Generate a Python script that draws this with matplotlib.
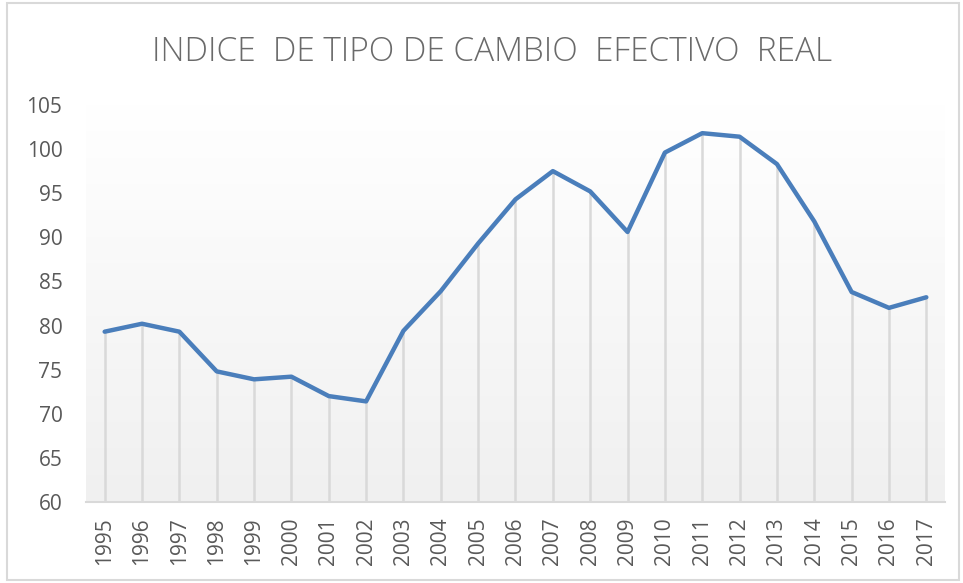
import matplotlib
matplotlib.use("Agg")
import matplotlib.pyplot as plt
import numpy as np
from matplotlib.patches import Rectangle
from matplotlib.colors import LinearSegmentedColormap

years = [str(y) for y in range(1995, 2018)]
values = [79.3, 80.2, 79.3, 74.8, 73.9, 74.2, 72.0, 71.4, 79.4, 83.9, 89.3, 94.3,
          97.5, 95.2, 90.6, 99.6, 101.8, 101.4, 98.3, 91.8, 83.8, 82.0, 83.2]
yticks = [60, 65, 70, 75, 80, 85, 90, 95, 100, 105]
title = "INDICE  DE TIPO DE CAMBIO  EFECTIVO  REAL"

plt.rcParams['font.family'] = ['Open Sans', 'DejaVu Sans']

fig = plt.figure(figsize=(9.63, 5.83), dpi=100)
fig.patch.set_facecolor('white')
fig.add_artist(Rectangle((0.007, 0.006), 0.989, 0.988, transform=fig.transFigure,
                         fill=False, edgecolor='#d9d9d9', linewidth=1.5))

ax = fig.add_axes([0.0893, 0.139, 0.892, 0.681])
x = np.arange(len(years))
ax.set_xlim(-0.5, len(years) - 0.5)
ax.set_ylim(60, 105)

# gradient background (light gray at bottom to white at top)
cmap = LinearSegmentedColormap.from_list('g', ['#f0f0f0', '#ffffff'])
ax.imshow(np.linspace(0.0, 1.0, 256).reshape(-1, 1),
          extent=(-0.5, len(years) - 0.5, 60, 105), aspect='auto',
          cmap=cmap, origin='lower', zorder=0)

ax.vlines(x, 60, values, colors='#d9d9d9', linewidth=1.8, zorder=1)
ax.plot(x, values, color='#4a7ebb', linewidth=3.2, solid_joinstyle='round',
        solid_capstyle='round', zorder=3)

for s in ['top', 'right', 'left']:
    ax.spines[s].set_visible(False)
ax.spines['bottom'].set_color('#d9d9d9')
ax.spines['bottom'].set_linewidth(1.5)

ax.set_yticks(yticks)
ax.set_yticklabels([str(t) for t in yticks])
ax.set_xticks(x)
ax.set_xticklabels(years, rotation=90)
ax.tick_params(axis='y', length=0, labelsize=15, labelcolor='#595959', pad=17)
ax.tick_params(axis='x', length=0, labelsize=15, labelcolor='#595959', pad=11)

fig.text(0.511, 0.91, title, ha='center', va='center', fontsize=24,
         color='#6a6a6a', fontweight='light')

fig.savefig('out.png', dpi=100)
